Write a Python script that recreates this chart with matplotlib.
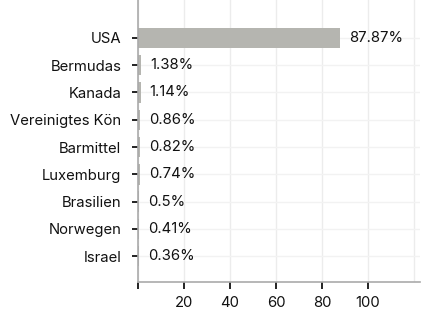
import matplotlib
matplotlib.use("Agg")
import matplotlib.pyplot as plt
import numpy as np

plt.rcParams["font.family"] = ["Inter", "DejaVu Sans"]

laender = ["USA", "Bermudas", "Kanada", "Vereinigtes Kön", "Barmittel",
           "Luxemburg", "Brasilien", "Norwegen", "Israel"]
anteile = [87.87, 1.38, 1.14, 0.86, 0.82, 0.74, 0.5, 0.41, 0.36]
labels = ["87.87%", "1.38%", "1.14%", "0.86%", "0.82%", "0.74%", "0.5%", "0.41%", "0.36%"]

fs = 10.7
fig = plt.figure(figsize=(4.23, 3.11), dpi=100)
ax = fig.add_axes([0.326, 0.093, 0.667, 0.907])

y = np.arange(len(laender))
ax.barh(y, anteile, height=0.75, color="#b5b5b0", zorder=2)

# Beschriftungen rechts neben den Balken
for yi, val, txt in zip(y, anteile, labels):
    ax.annotate(txt, (val, yi), xytext=(6.5, 0), textcoords="offset points",
                va="center", ha="left", fontsize=fs, color="#111111")

ax.set_yticks(y)
ax.set_yticklabels(laender, fontsize=fs, color="#111111")
ax.set_ylim(8.95, -1.39)

ax.set_xlim(0, 122.6)
ax.set_xticks([0, 20, 40, 60, 80, 100])
ax.set_xticklabels(["", "20", "40", "60", "80", "100"], fontsize=fs, color="#111111")
ax.set_xticks([120], minor=True)
ax.tick_params(axis="x", which="minor", length=0)
ax.grid(True, axis="x", which="both", color="#ececec", linewidth=1, zorder=0)
ax.grid(True, axis="y", color="#f2f2f2", linewidth=1, zorder=0)
ax.set_axisbelow(True)

ax.tick_params(axis="y", which="major", length=4, width=1.3, color="#111111", pad=8)
ax.tick_params(axis="x", which="major", length=5, width=1.3, color="#111111", pad=5)
for side in ["top", "right"]:
    ax.spines[side].set_visible(False)
for side in ["left", "bottom"]:
    ax.spines[side].set_color("#aaaaaa")
    ax.spines[side].set_linewidth(1.2)

fig.savefig("out.png", dpi=100)
